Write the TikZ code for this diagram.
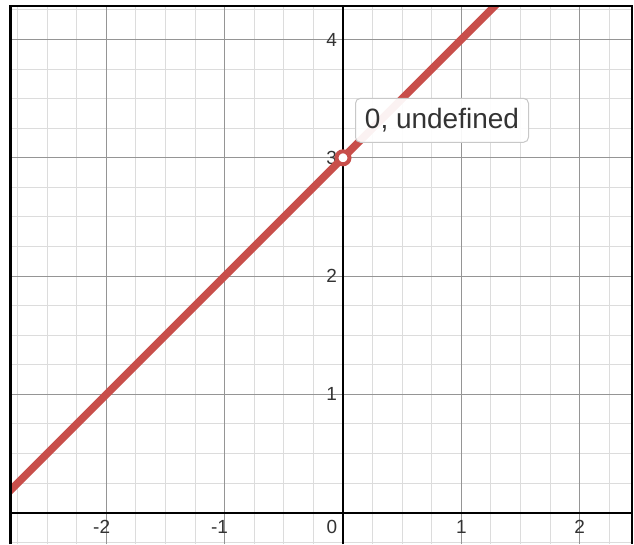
\documentclass[tikz,border=0pt]{standalone}
\usepackage{fontspec}
\setmainfont{Liberation Sans}
\usepackage{xcolor}
\definecolor{cCurve}{HTML}{C84E4A}
\definecolor{cMajor}{HTML}{959595}
\definecolor{cMinor}{HTML}{DCDCDC}
\definecolor{cLabel}{HTML}{333333}
\definecolor{cBoxLine}{HTML}{C8C8C8}
\usepackage{tikz}
\usetikzlibrary{positioning}
\tikzset{
  grid-minor/.style={draw=cMinor,line width=1pt},
  grid-major/.style={draw=cMajor,line width=1.2pt},
  axis-line/.style={draw=black,line width=2pt},
  frame-line/.style={draw=black,line width=2.5pt},
  curve/.style={draw=cCurve,line width=7.5pt},
  hole-mark/.style={draw=cCurve,line width=4pt,fill=white},
  tick-label/.style={text=cLabel,inner sep=0pt,font=\fontsize{19}{21}\selectfont},
  info-box/.style={draw=cBoxLine,line width=1pt,rounded corners=5pt,
    fill=white,fill opacity=0.93,text opacity=1,text=cLabel,
    minimum width=173pt,minimum height=44pt,inner sep=0pt,
    font=\fontsize{28}{32}\selectfont},
}

\begin{document}
\begin{tikzpicture}[x=118.3pt,y=118.3pt]
  % picture size, in pixels of the reference
  \useasboundingbox (-343pt,-31.3pt) rectangle (291pt,512.7pt);
  \def\xmin{-2.811}\def\xmax{2.443}\def\ymin{-0.2646}\def\ymax{4.283}

  % grid
  \draw[grid-minor] (\xmin,\ymin) grid[step=0.25] (\xmax,\ymax);
  \draw[grid-major] (\xmin,\ymin) grid[step=1] (\xmax,\ymax);

  % axes
  \draw[axis-line] (\xmin,0) -- (\xmax,0);
  \draw[axis-line] (0,\ymin) -- (0,\ymax);

  % tick labels
  \node[tick-label] (xl-2) at (-2.04,-0.121) {-2};
  \node[tick-label] (xl-1) at (-1.044,-0.121) {-1};
  \node[tick-label] (xl0) at (-0.093,-0.121) {0};
  \node[tick-label] (xl1) at (1,-0.121) {1};
  \node[tick-label] (xl2) at (2,-0.121) {2};
  \foreach \k in {1,...,4}
    \node[tick-label,anchor=east] (yl\k) at (-0.05,\k) {\k};

  % y = x + 3
  \begin{scope}
    \clip (\xmin,\ymin) rectangle (\xmax,\ymax);
    \draw[curve] (-3.5,-0.5) -- (1.5,4.5);
  \end{scope}

  % hole at x = 0
  \coordinate (hole) at (0,3);
  \draw[hole-mark] (hole) circle (6.5pt);
  \node[info-box,above right=15pt and 12pt of hole] (hole-info) {0, undefined};

  % frame
  \draw[frame-line] (\xmin,\ymin) -- (\xmin,\ymax) -- (\xmax,\ymax) -- (\xmax,\ymin);
\end{tikzpicture}
\end{document}
